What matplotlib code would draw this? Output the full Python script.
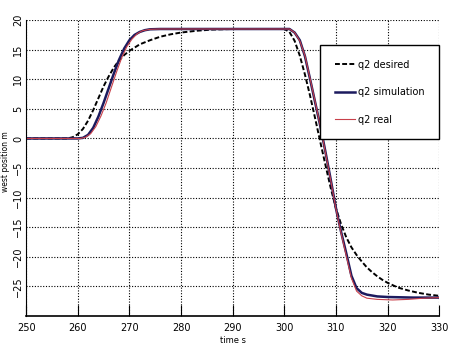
import matplotlib
matplotlib.use("Agg")
import matplotlib.pyplot as plt

plt.rcParams['font.family'] = ['Liberation Sans Narrow', 'DejaVu Sans']

# q2 desired (time s, position m)
t_des = [250, 258, 259, 260, 261, 262, 263, 264, 265, 266, 267, 268, 269, 270,
         272, 274, 276, 278, 280, 283, 286, 290, 300, 301, 302, 303, 304, 305,
         306, 307, 308, 309, 310, 311, 312, 313, 314, 315, 316, 317, 318, 319,
         320, 322, 324, 326, 328, 330]
q_des = [0, 0, 0.2, 0.7, 1.6, 3.0, 4.8, 6.8, 8.8, 10.5, 12.0, 13.2, 14.1, 14.8,
         15.9, 16.6, 17.2, 17.6, 17.9, 18.2, 18.4, 18.5, 18.5, 18.0, 16.5, 14.0,
         10.8, 7.2, 3.3, -0.7, -4.6, -8.4, -11.8, -14.5, -16.7, -18.4, -19.7,
         -20.8, -21.8, -22.6, -23.3, -23.9, -24.4, -25.2, -25.7, -26.1, -26.4, -26.6]

# q2 simulation
t_sim = [250, 260, 261, 262, 263, 264, 265, 266, 267, 268, 269, 270, 271, 272,
         273, 274, 276, 301, 302, 303, 304, 305, 306, 307, 308, 309, 310, 311,
         312, 313, 314, 315, 316, 318, 320, 325, 330]
q_sim = [0, 0, 0.1, 0.6, 1.8, 3.7, 6.0, 8.5, 11.0, 13.3, 15.2, 16.6, 17.5, 18.0,
         18.3, 18.45, 18.5, 18.5, 17.9, 16.6, 13.9, 10.0, 6.0, 2.0, -2.4, -7.0,
         -11.8, -15.8, -19.4, -23.2, -25.3, -26.1, -26.4, -26.7, -26.8, -26.9, -26.9]

# q2 real
t_real = [250, 260.5, 261.5, 262.5, 263.5, 264.5, 265.5, 266.5, 267.5, 268.5,
          269.5, 270.5, 271.5, 272.5, 274, 276, 301, 302, 303, 304, 305, 306,
          307, 308, 309, 310, 311, 312, 313, 314, 315, 316, 318, 321, 324, 327, 330]
q_real = [0, 0, 0.2, 0.8, 2.0, 3.8, 6.0, 8.6, 11.2, 13.6, 15.5, 16.8, 17.7, 18.2,
          18.45, 18.5, 18.5, 17.9, 16.5, 14.0, 10.1, 6.1, 2.0, -2.5, -7.1, -11.9,
          -16.0, -19.8, -23.6, -25.8, -26.6, -27.0, -27.2, -27.3, -27.2, -27.0, -26.9]

x_ticks = list(range(250, 331, 10))
y_ticks = list(range(-25, 21, 5))

fig = plt.figure(figsize=(4.5, 3.53), dpi=100)
ax = fig.add_axes([0.058, 0.105, 0.918, 0.838])

ax.plot(t_des, q_des, color='black', lw=1.4, ls=(0, (2.5, 1.2)), label='q2 desired')
ax.plot(t_sim, q_sim, color='#1c1a5e', lw=1.8, label='q2 simulation')
ax.plot(t_real, q_real, color='#c8404a', lw=0.8, label='q2 real')

ax.set_xlim(250, 330)
ax.set_ylim(-30, 20)
ax.set_xticks(x_ticks)
ax.set_yticks(y_ticks)
ax.grid(True, color='black', ls=(0, (1, 1.5)), lw=0.8)
ax.tick_params(axis='x', direction='in', length=8, width=0.8, labelsize=7, pad=5)
ax.tick_params(axis='y', length=0, labelsize=7, pad=2)
for lbl in ax.get_yticklabels():
    lbl.set_rotation(90)
    lbl.set_va('center')
for s in ['top', 'right']:
    ax.spines[s].set_visible(False)
ax.spines['bottom'].set_linewidth(1.2)
ax.spines['left'].set_linewidth(0.8)

ax.set_xlabel('time s', fontsize=6, labelpad=2)
ax.set_ylabel('west position m', fontsize=5.5)
ax.yaxis.set_label_coords(-0.038, 0.52)

leg = ax.legend(loc='upper right', bbox_to_anchor=(1.0, 0.916), fontsize=7,
                frameon=True, fancybox=False, edgecolor='black', framealpha=1,
                borderpad=1.5, labelspacing=1.8, handlelength=2.1,
                handletextpad=0.3, borderaxespad=0)
leg.get_frame().set_linewidth(1.0)

fig.savefig('out.png', dpi=100)
